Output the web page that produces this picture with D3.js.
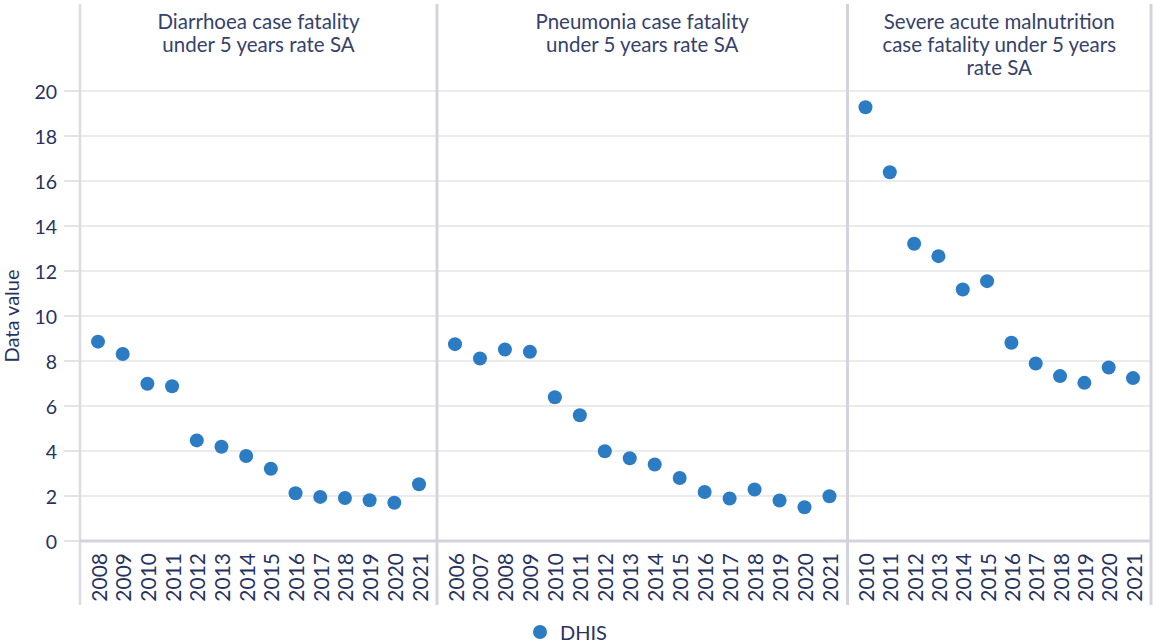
<!DOCTYPE html>
<html>
<head>
<meta charset="utf-8">
<script src="https://cdn.jsdelivr.net/npm/d3@7"></script>
<style>
  body { margin: 0; background: #fff; }
  svg { display: block; font-family: Lato, 'Open Sans', sans-serif; }
</style>
</head>
<body>
<div id="chart"></div>
<script>
// data
const diarrhoeaYears = ['2008', '2009', '2010', '2011', '2012', '2013', '2014', '2015', '2016', '2017', '2018', '2019', '2020', '2021'];
const diarrhoeaValues = [8.86, 8.31, 6.99, 6.88, 4.47, 4.19, 3.78, 3.21, 2.12, 1.96, 1.91, 1.81, 1.70, 2.52];

const pneumoniaYears = ['2006', '2007', '2008', '2009', '2010', '2011', '2012', '2013', '2014', '2015', '2016', '2017', '2018', '2019', '2020', '2021'];
const pneumoniaValues = [8.75, 8.11, 8.51, 8.41, 6.39, 5.59, 3.99, 3.68, 3.40, 2.80, 2.18, 1.89, 2.29, 1.80, 1.50, 1.99];

const samYears = ['2010', '2011', '2012', '2013', '2014', '2015', '2016', '2017', '2018', '2019', '2020', '2021'];
const samValues = [19.28, 16.39, 13.21, 12.66, 11.18, 11.55, 8.81, 7.89, 7.33, 7.03, 7.71, 7.24];

const panelTitles = [
  ['Diarrhoea case fatality', 'under 5 years rate SA'],
  ['Pneumonia case fatality', 'under 5 years rate SA'],
  ['Severe acute malnutrition', 'case fatality under 5 years', 'rate SA']
];
const yTicks = [0, 2, 4, 6, 8, 10, 12, 14, 16, 18, 20];
const seriesName = 'DHIS';
const yLabel = 'Data value';

const panels = [
  { years: diarrhoeaYears, values: diarrhoeaValues, title: panelTitles[0] },
  { years: pneumoniaYears, values: pneumoniaValues, title: panelTitles[1] },
  { years: samYears, values: samValues, title: panelTitles[2] }
];

const W = 1153, H = 643;
const plotLeft = 80, plotRight = 1151, frameTop = 4, plotBottom = 541, labelBottom = 605;
const textColor = '#27335e';
const dotColor = '#2c7cc4';
const gridColor = '#e4e4e8';
const frameColor = '#d3d3de';

const svg = d3.select('#chart').append('svg')
  .attr('width', W)
  .attr('height', H);

const y = d3.scaleLinear().domain([0, 20]).range([plotBottom, 91]);

// panel widths follow the number of years in each one
const weights = panels.map(p => p.years.length - 0.65);
const totalWeight = d3.sum(weights);
let cursor = plotLeft;
panels.forEach((p, i) => {
  p.x0 = cursor;
  p.x1 = cursor + (plotRight - plotLeft) * weights[i] / totalWeight;
  cursor = p.x1;
});

// gridlines
svg.append('g')
  .selectAll('line')
  .data(yTicks.filter(t => t > 0))
  .enter()
  .append('line')
    .attr('x1', plotLeft)
    .attr('x2', plotRight)
    .attr('y1', d => y(d))
    .attr('y2', d => y(d))
    .attr('stroke', gridColor)
    .attr('stroke-width', 1.5);

// y axis ticks + labels
const yAxis = svg.append('g');
yAxis.selectAll('line')
  .data(yTicks)
  .enter()
  .append('line')
    .attr('x1', 64)
    .attr('x2', plotLeft)
    .attr('y1', d => y(d))
    .attr('y2', d => y(d))
    .attr('stroke', gridColor)
    .attr('stroke-width', 2);
yAxis.selectAll('text')
  .data(yTicks)
  .enter()
  .append('text')
    .attr('x', 57)
    .attr('y', d => y(d))
    .attr('text-anchor', 'end')
    .attr('dominant-baseline', 'central')
    .attr('font-size', '19.5px')
    .attr('fill', textColor)
    .text(d => d);

svg.append('text')
  .attr('transform', `translate(18.5, ${(plotBottom + 91) / 2}) rotate(-90)`)
  .attr('text-anchor', 'middle')
  .attr('font-size', '20px')
  .attr('fill', textColor)
  .text(yLabel);

// left axis line
svg.append('line')
  .attr('x1', plotLeft).attr('x2', plotLeft)
  .attr('y1', frameTop).attr('y2', labelBottom)
  .attr('stroke', '#dcdce2')
  .attr('stroke-width', 2.5);

// bottom axis line
svg.append('line')
  .attr('x1', plotLeft).attr('x2', plotRight)
  .attr('y1', plotBottom).attr('y2', plotBottom)
  .attr('stroke', frameColor)
  .attr('stroke-width', 3);

panels.forEach(p => {
  const x = d3.scalePoint()
    .domain(p.years)
    .range([p.x0 + 18, p.x1 - 18]);

  const g = svg.append('g');

  // right separator
  g.append('line')
    .attr('x1', p.x1).attr('x2', p.x1)
    .attr('y1', frameTop).attr('y2', labelBottom)
    .attr('stroke', frameColor)
    .attr('stroke-width', 3);

  // title
  g.append('text')
    .attr('text-anchor', 'middle')
    .attr('font-size', '20.5px')
    .attr('fill', '#36426a')
    .selectAll('tspan')
    .data(p.title)
    .enter()
    .append('tspan')
      .attr('x', (p.x0 + p.x1) / 2)
      .attr('y', (d, i) => 29 + i * 23)
      .text(d => d);

  // year labels
  g.selectAll('text.year')
    .data(p.years)
    .enter()
    .append('text')
      .attr('class', 'year')
      .attr('transform', d => `translate(${x(d)}, 553) rotate(-90)`)
      .attr('text-anchor', 'end')
      .attr('dominant-baseline', 'central')
      .attr('font-size', '21px')
      .attr('fill', textColor)
      .text(d => d);

  // dots
  g.selectAll('circle')
    .data(p.years.map((yr, i) => ({ yr, v: p.values[i] })))
    .enter()
    .append('circle')
      .attr('cx', d => x(d.yr))
      .attr('cy', d => y(d.v))
      .attr('r', 7)
      .attr('fill', dotColor);
});

// legend
const legend = svg.append('g').attr('transform', 'translate(540, 632)');
legend.append('circle')
  .attr('r', 7)
  .attr('fill', dotColor);
legend.append('text')
  .attr('x', 20)
  .attr('dominant-baseline', 'central')
  .attr('font-size', '20px')
  .attr('fill', textColor)
  .text(seriesName);
</script>
</body>
</html>
